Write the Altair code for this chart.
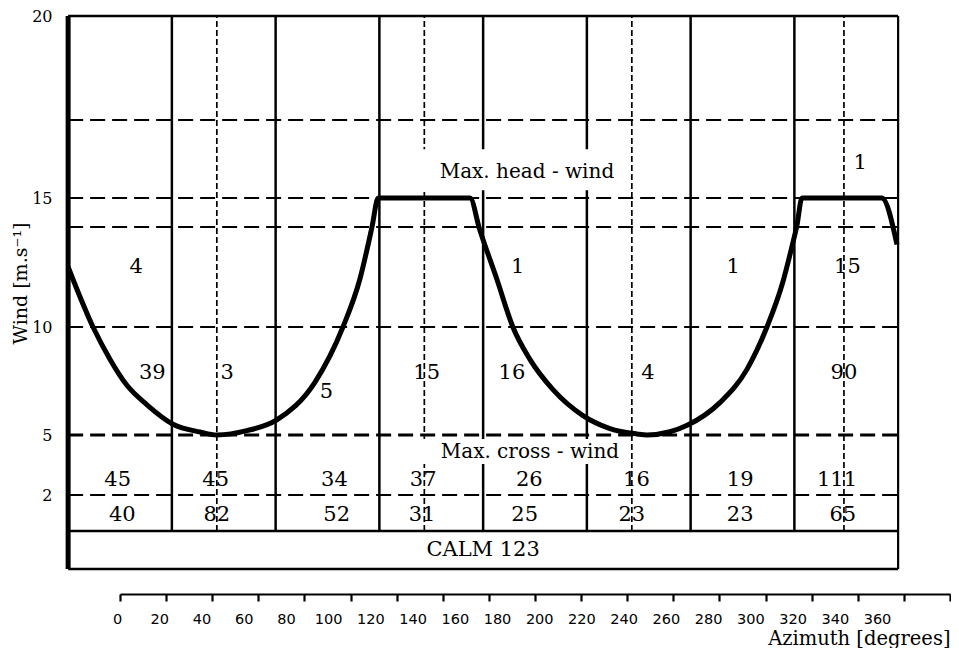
import altair as alt
import pandas as pd

# ---------------- values ----------------
SECTOR_EDGES = [-22.5, 22.5, 67.5, 112.5, 157.5, 202.5, 247.5, 292.5, 337.5]
RUNWAY_DIRS = [42, 132, 222, 314]
CLASS_LIMITS = [2, 5, 10, 14, 15, 17]
WIND_TOP = 20
CALM_FLOOR = -2
WIND_TICKS = [2, 5, 10, 15, 20]
AZIMUTH_TICKS = list(range(0, 361, 20))

CURVE_DEG = [-22.5, -11.7, -4.3, 3.0, 11.7, 23.0, 34.7, 42.0, 55.0, 68.0, 84.6,
             96.7, 104.0, 109.3, 112.0, 151.8, 156.0, 163.5, 170.4, 177.8, 187.8,
             200.8, 212.5, 224.2, 228.5, 238.5, 246.0, 260.2, 272.0, 280.6, 287.5,
             291.4, 293.6, 295.8, 330.4, 337.0]
CURVE_WIND = [12.4, 10.0, 8.5, 7.3, 6.4, 5.5, 5.14, 5.0, 5.2, 5.7, 7.45,
              10.0, 11.9, 14.0, 15.0, 15.0, 13.9, 11.9, 10.0, 8.5, 7.1,
              5.9, 5.3, 5.05, 5.0, 5.15, 5.45, 6.5, 8.05, 10.0, 11.8,
              13.2, 14.05, 15.0, 15.0, 13.3]

CELL_TEXT = ["40", "82", "52", "31", "25", "23", "23", "65",
             "45", "45", "34", "37", "26", "16", "19", "111",
             "39", "3", "5", "15", "16", "4", "90",
             "4", "1", "1", "15",
             "1"]
CELL_DEG = [1, 42, 94, 131, 175.5, 222, 269, 313.5,
            -1, 41.5, 93, 131.5, 177.5, 224, 269, 311,
            14, 46.5, 89.5, 133, 170, 229, 314,
            7, 172.5, 266, 315.5,
            321]
CELL_WIND = [0.9] * 8 + [2.75] * 8 + [7.85, 7.85, 7.0, 7.85, 7.85, 7.85, 7.85] + [12.4] * 4 + [15.9]

NOTE_TEXT = ["Max. head - wind", "Max. cross - wind"]
NOTE_DEG = [176.5, 177.8]
NOTE_WIND = [15.67, 4.15]
NOTE_DEG_FROM = [130, 130]
NOTE_DEG_TO = [219.4, 219.4]
NOTE_WIND_FROM = [15.2, 3.55]
NOTE_WIND_TO = [16.25, 4.8]

CALM_LABEL = "CALM 123"
CALM_DEG = 157.5
CALM_WIND = -1

# ---------------- scales ----------------
Y_DOMAIN = [CALM_FLOOR, 0, 2, 5, 10, 14, 15, 17, 20]
Y_RANGE = [553, 515, 479, 419, 311, 211, 182, 104, 0]


def y_scale():
    return alt.Scale(domain=Y_DOMAIN, range=Y_RANGE, nice=False, zero=False)


def x_scale():
    return alt.Scale(domain=[0, 360], range=[52, 882], nice=False, zero=False)


SERIF = "DejaVu Serif"

y_axis = alt.Axis(values=WIND_TICKS, ticks=False, domain=False, grid=False,
                  labelFont=SERIF, labelFontSize=16, labelColor="black", labelPadding=16,
                  title="Wind [m.s⁻¹]", titleFont=SERIF, titleFontSize=19,
                  titleFontWeight="normal", titleColor="black", titleX=-48, titleY=267,
                  titleBaseline="middle")

tick_axis = alt.Axis(values=AZIMUTH_TICKS, orient="bottom", offset=25, labels=False,
                     ticks=True, tickSize=7, tickWidth=2.2, tickColor="black",
                     domain=True, domainColor="black", domainWidth=2, grid=False,
                     title="Azimuth [degrees]", titleFont=SERIF, titleFontSize=19.5,
                     titleFontWeight="normal", titleColor="black", titleAnchor="end",
                     titleBaseline="top", titleY=35)

label_axis = alt.Axis(values=AZIMUTH_TICKS, orient="bottom", offset=25, ticks=False,
                      tickSize=0, domain=False, grid=False, labelFont="DejaVu Sans",
                      labelFontSize=14.5, labelColor="black", labelPadding=18,
                      labelFlush=False, labelOverlap=False, format="d", title=None)

# ---------------- tables ----------------
levels = pd.DataFrame({"wind": CLASS_LIMITS})
levels["a"] = SECTOR_EDGES[0]
levels["b"] = SECTOR_EDGES[-1]

sectors = pd.DataFrame({"deg": SECTOR_EDGES[1:-1]})
sectors["lo"] = 0
sectors["hi"] = WIND_TOP

runway = pd.DataFrame({"deg": RUNWAY_DIRS})
runway["lo"] = 0
runway["hi"] = WIND_TOP

left_edge = pd.DataFrame({"deg": [SECTOR_EDGES[0]], "lo": [CALM_FLOOR], "hi": [WIND_TOP]})
right_edge = pd.DataFrame({"deg": [SECTOR_EDGES[-1]], "lo": [CALM_FLOOR], "hi": [WIND_TOP]})
frame_h = pd.DataFrame({"wind": [WIND_TOP, 0, CALM_FLOOR]})
frame_h["a"] = SECTOR_EDGES[0]
frame_h["b"] = SECTOR_EDGES[-1]

curve = pd.DataFrame({"deg": CURVE_DEG, "wind": CURVE_WIND})
cells = pd.DataFrame({"label": CELL_TEXT, "deg": CELL_DEG, "wind": CELL_WIND})
notes = pd.DataFrame({"label": NOTE_TEXT, "deg": NOTE_DEG, "wind": NOTE_WIND,
                      "d0": NOTE_DEG_FROM, "d1": NOTE_DEG_TO,
                      "w0": NOTE_WIND_FROM, "w1": NOTE_WIND_TO})
calm = pd.DataFrame({"label": [CALM_LABEL], "deg": [CALM_DEG], "wind": [CALM_WIND]})
az_ticks = pd.DataFrame({"deg": AZIMUTH_TICKS})


def X(field, axis=None):
    return alt.X(field, scale=x_scale(), axis=axis)


def Y(field):
    # every layer carries the same (shared) y axis definition
    return alt.Y(field, scale=y_scale(), axis=y_axis)


dashed_thin = alt.Chart(levels).transform_filter("datum.wind != 5").mark_rule(
    color="black", strokeWidth=2.2, strokeDash=[15, 7]
).encode(x=X("a:Q"), x2="b:Q", y=Y("wind:Q"))

dashed_thick = alt.Chart(levels).transform_filter("datum.wind == 5").mark_rule(
    color="black", strokeWidth=3, strokeDash=[15, 7]
).encode(x=X("a:Q"), x2="b:Q", y=Y("wind:Q"))

sector_lines = alt.Chart(sectors).mark_rule(color="black", strokeWidth=2.5).encode(
    x=X("deg:Q"), y=Y("lo:Q"), y2="hi:Q")

runway_lines = alt.Chart(runway).mark_rule(color="black", strokeWidth=1.7,
                                           strokeDash=[6, 3]).encode(
    x=X("deg:Q"), y=Y("lo:Q"), y2="hi:Q")

left_line = alt.Chart(left_edge).mark_rule(color="black", strokeWidth=5).encode(
    x=X("deg:Q"), y=Y("lo:Q"), y2="hi:Q")

right_line = alt.Chart(right_edge).mark_rule(color="black", strokeWidth=2.2).encode(
    x=X("deg:Q"), y=Y("lo:Q"), y2="hi:Q")

frame_lines = alt.Chart(frame_h).mark_rule(color="black", strokeWidth=2.4).encode(
    x=X("a:Q"), x2="b:Q", y=Y("wind:Q"))

note_boxes = alt.Chart(notes).mark_rect(color="white").encode(
    x=X("d0:Q"), x2="d1:Q", y=Y("w0:Q"), y2="w1:Q")

note_text = alt.Chart(notes).mark_text(font=SERIF, fontSize=20, color="black",
                                       baseline="middle", align="center").encode(
    x=X("deg:Q"), y=Y("wind:Q"), text="label:N")

curve_line = alt.Chart(curve).mark_line(color="black", strokeWidth=5,
                                        interpolate="monotone").encode(
    x=X("deg:Q", tick_axis), y=Y("wind:Q"))

cell_text = alt.Chart(cells).mark_text(font=SERIF, fontSize=21, color="black",
                                       baseline="middle", align="center").encode(
    x=X("deg:Q"), y=Y("wind:Q"), text="label:N")

calm_text = alt.Chart(calm).mark_text(font=SERIF, fontSize=21, color="black",
                                      baseline="middle", align="center").encode(
    x=X("deg:Q"), y=Y("wind:Q"), text="label:N")

label_layer = alt.Chart(az_ticks).mark_point(opacity=0).encode(
    x=alt.X("deg:Q", scale=alt.Scale(domain=[0, 360], range=[49, 809], nice=False,
                                     zero=False), axis=label_axis),
    y=Y("deg:Q"))

chart = alt.layer(dashed_thin, dashed_thick, sector_lines, runway_lines, left_line,
                  right_line, frame_lines, note_boxes, note_text, curve_line,
                  cell_text, calm_text, label_layer
).resolve_scale(x="independent").properties(
    width=830, height=553,
    autosize=alt.AutoSizeParams(type="none"),
    padding={"left": 60, "top": 8, "right": 53, "bottom": 79},
    background="white",
).configure_view(stroke=None)

chart.save("out.html", embed_options={"renderer": "svg", "actions": False})
